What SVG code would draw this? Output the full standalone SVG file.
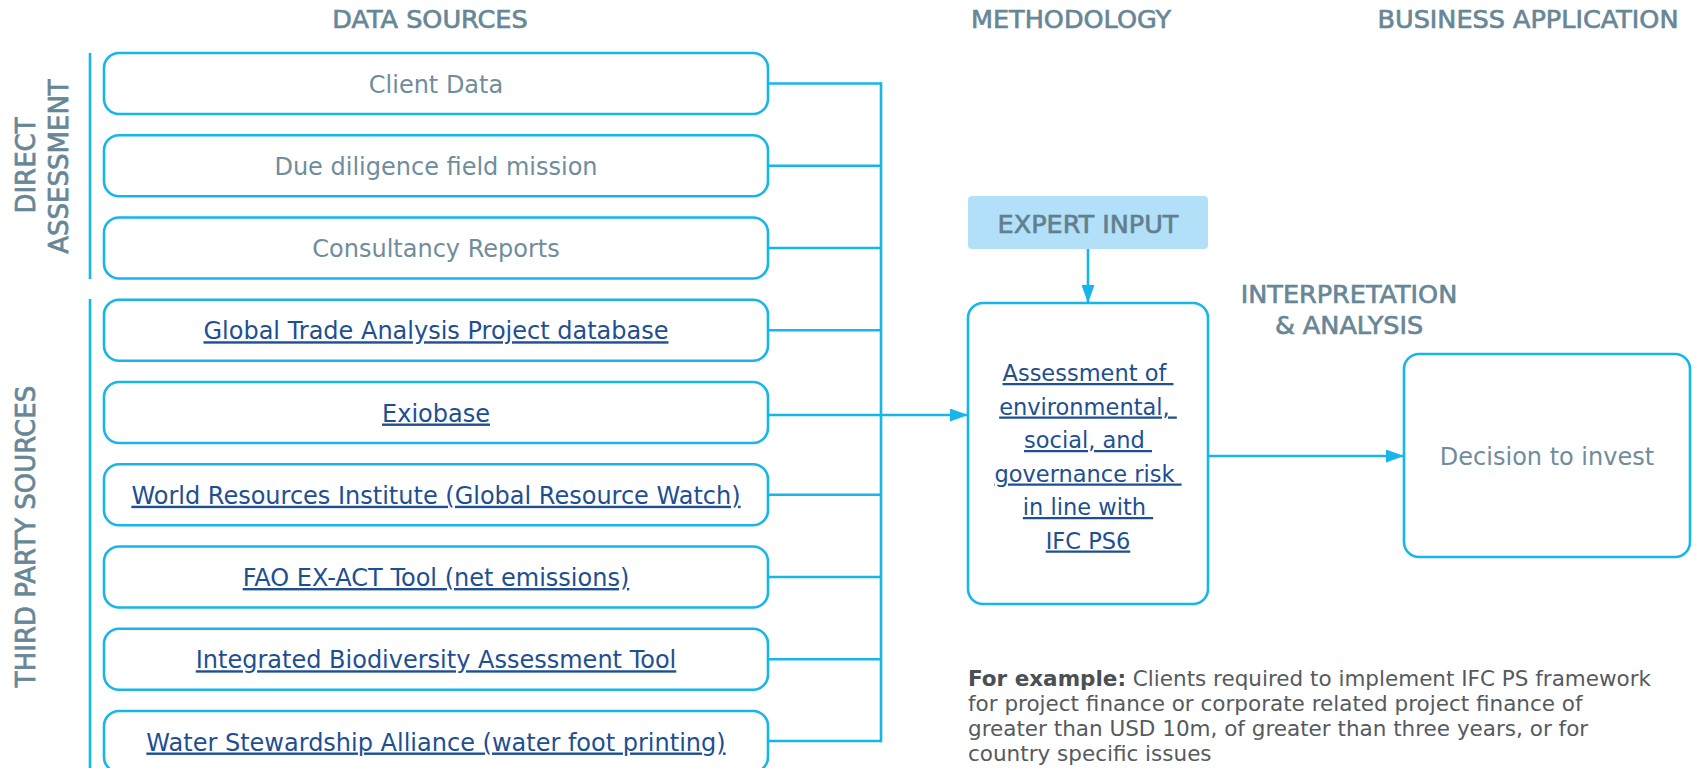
<svg xmlns="http://www.w3.org/2000/svg" width="1705" height="768" viewBox="0 0 1705 768">
<defs>
<style>
.box{fill:#ffffff;stroke:#16b6ea;stroke-width:2.6}
.ln{fill:none;stroke:#16b6ea;stroke-width:2.6}
.hd{font-family:"DejaVu Sans",sans-serif;font-size:25.5px;fill:#678797;stroke:#678797;stroke-width:0.7;text-anchor:middle}
.side{font-family:"DejaVu Sans",sans-serif;font-size:26px;fill:#678797;stroke:#678797;stroke-width:0.7;text-anchor:middle}
.t{font-family:"DejaVu Sans",sans-serif;font-size:24px;fill:#6f8d9c;text-anchor:middle}
.lk{font-family:"DejaVu Sans",sans-serif;font-size:24px;fill:#1e4f92;text-anchor:middle;text-decoration:underline}
.as{font-family:"DejaVu Sans",sans-serif;font-size:22.5px;fill:#1e4f92;text-anchor:middle;text-decoration:underline;white-space:pre}
.p{font-family:"DejaVu Sans",sans-serif;font-size:21.5px;fill:#555a5e}
</style>
<marker id="ah" viewBox="0 0 18 13" refX="18" refY="6.5" markerWidth="18" markerHeight="13" markerUnits="userSpaceOnUse" orient="auto">
<path d="M0,0 L18,6.5 L0,13 Z" fill="#16b6ea"/>
</marker>
</defs>
<rect width="1705" height="768" fill="#ffffff"/>

<g id="headings">
<text class="hd" x="430" y="28">DATA SOURCES</text>
<text class="hd" x="1071" y="28">METHODOLOGY</text>
<text class="hd" x="1528" y="28">BUSINESS APPLICATION</text>
</g>

<g id="side-labels">
<line class="ln" x1="90" y1="53" x2="90" y2="279"/>
<line class="ln" x1="90" y1="299" x2="90" y2="768"/>
<text class="side" transform="translate(35,165.5) rotate(-90)">DIRECT</text>
<text class="side" transform="translate(68,166.5) rotate(-90)">ASSESSMENT</text>
<text class="side" transform="translate(35,536.5) rotate(-90)">THIRD PARTY SOURCES</text>
</g>

<g id="connectors">
<line class="ln" x1="768" y1="83.5" x2="881" y2="83.5"/>
<line class="ln" x1="768" y1="165.75" x2="881" y2="165.75"/>
<line class="ln" x1="768" y1="248" x2="881" y2="248"/>
<line class="ln" x1="768" y1="330.25" x2="881" y2="330.25"/>
<line class="ln" x1="768" y1="494.75" x2="881" y2="494.75"/>
<line class="ln" x1="768" y1="577" x2="881" y2="577"/>
<line class="ln" x1="768" y1="659.25" x2="881" y2="659.25"/>
<line class="ln" x1="768" y1="741" x2="881" y2="741"/>
<line class="ln" x1="881" y1="82.2" x2="881" y2="742.3"/>
<line class="ln" x1="768" y1="415" x2="968" y2="415" marker-end="url(#ah)"/>
<line class="ln" x1="1088" y1="249" x2="1088" y2="303" marker-end="url(#ah)"/>
<line class="ln" x1="1208" y1="456" x2="1404" y2="456" marker-end="url(#ah)"/>
</g>

<g id="client-data">
<rect class="box" x="104" y="53" width="664" height="61" rx="15"/>
<text class="t" x="436" y="92.5">Client Data</text>
</g>
<g id="due-diligence">
<rect class="box" x="104" y="135.25" width="664" height="61" rx="15"/>
<text class="t" x="436" y="174.75">Due diligence field mission</text>
</g>
<g id="consultancy">
<rect class="box" x="104" y="217.5" width="664" height="61" rx="15"/>
<text class="t" x="436" y="257">Consultancy Reports</text>
</g>
<g id="gtap">
<rect class="box" x="104" y="299.75" width="664" height="61" rx="15"/>
<text class="lk" x="436" y="339.25">Global Trade Analysis Project database</text>
</g>
<g id="exiobase">
<rect class="box" x="104" y="382" width="664" height="61" rx="15"/>
<text class="lk" x="436" y="421.5">Exiobase</text>
</g>
<g id="wri">
<rect class="box" x="104" y="464.25" width="664" height="61" rx="15"/>
<text class="lk" x="436" y="503.75">World Resources Institute (Global Resource Watch)</text>
</g>
<g id="fao">
<rect class="box" x="104" y="546.5" width="664" height="61" rx="15"/>
<text class="lk" x="436" y="586">FAO EX-ACT Tool (net emissions)</text>
</g>
<g id="ibat">
<rect class="box" x="104" y="628.75" width="664" height="61" rx="15"/>
<text class="lk" x="436" y="668.25">Integrated Biodiversity Assessment Tool</text>
</g>
<g id="wsa">
<rect class="box" x="104" y="711" width="664" height="61" rx="15"/>
<text class="lk" x="436" y="750.5">Water Stewardship Alliance (water foot printing)</text>
</g>

<g id="expert-input">
<rect x="968" y="196" width="240" height="53" rx="4" fill="#b2e0f8"/>
<text class="hd" x="1088" y="233" style="fill:#627f8e;stroke:#627f8e">EXPERT INPUT</text>
</g>

<g id="assessment">
<rect class="box" x="968" y="303" width="240" height="301" rx="15"/>
<text class="as" x="1088" y="381">Assessment of </text>
<text class="as" x="1088" y="414.5">environmental, </text>
<text class="as" x="1088" y="448">social, and </text>
<text class="as" x="1088" y="481.5">governance risk </text>
<text class="as" x="1088" y="515">in line with </text>
<text class="as" x="1088" y="548.5">IFC PS6</text>
</g>

<g id="interpretation">
<text class="hd" x="1349" y="303">INTERPRETATION</text>
<text class="hd" x="1349" y="334">&amp; ANALYSIS</text>
</g>

<g id="decision">
<rect class="box" x="1404" y="354" width="286" height="203" rx="15"/>
<text class="t" x="1547" y="465">Decision to invest</text>
</g>

<g id="example-note">
<text class="p" x="968" y="686"><tspan font-weight="bold" fill="#4a4f53">For example:</tspan> Clients required to implement IFC PS framework</text>
<text class="p" x="968" y="711">for project finance or corporate related project finance of</text>
<text class="p" x="968" y="736">greater than USD 10m, of greater than three years, or for</text>
<text class="p" x="968" y="761">country specific issues</text>
</g>
</svg>
